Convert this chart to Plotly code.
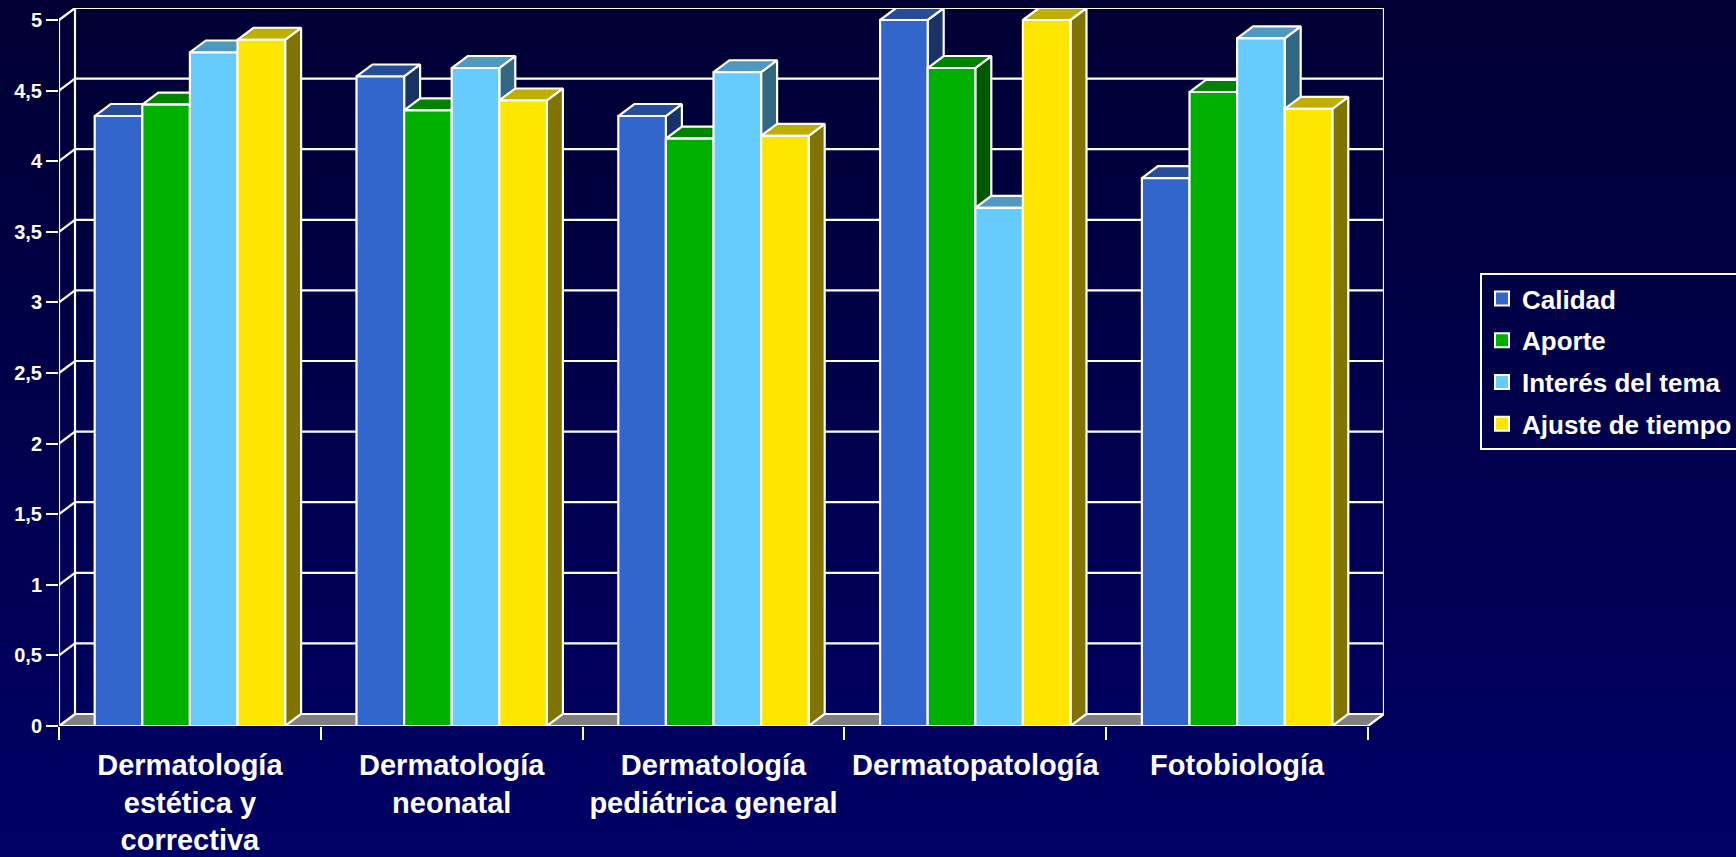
import numpy as np
import plotly.graph_objects as go

categories = ["Dermatología<br>estética y<br>correctiva", "Dermatología<br>neonatal",
              "Dermatología<br>pediátrica general", "Dermatopatología", "Fotobiología"]
calidad = [4.32, 4.60, 4.32, 5.00, 3.88]
aporte = [4.40, 4.36, 4.16, 4.66, 4.49]
interes = [4.77, 4.66, 4.63, 3.67, 4.87]
ajuste = [4.86, 4.43, 4.18, 5.00, 4.37]
series_names = ["Calidad", "Aporte", "Interés del tema", "Ajuste de tiempo"]
series_values = [calidad, aporte, interes, ajuste]
front_colors = ["#3366CC", "#00B000", "#66CCFF", "#FFE600"]
top_colors = ["#264D99", "#008400", "#4D99BF", "#BFAD00"]
side_colors = ["#1A3366", "#005800", "#336680", "#807300"]
y_ticks = [0, 0.5, 1, 1.5, 2, 2.5, 3, 3.5, 4, 4.5, 5]
y_labels = ["0", "0,5", "1", "1,5", "2", "2,5", "3", "3,5", "4", "4,5", "5"]

W, H = 1736, 857
X0, X1, Y0, Y1 = 59, 1384, 726, 8          # plot frame in page pixels
DX = 16 / 261.8                             # depth, in category units
DY = 12 / 141.2                             # depth, in value units
BAR = 1 / 5.5
n = len(categories)
centers = [i + 0.5 for i in range(n)]
WHITE = "#FFFFFF"
FONT = "Liberation Sans"
LW = 2.2

fig = go.Figure()

# page background gradient
fig.add_trace(go.Heatmap(z=np.linspace(0, 1, 256).reshape(-1, 1).tolist(), x=[0, 1],
                         y=np.linspace(1, 0, 256).tolist(), showscale=False, hoverinfo="skip",
                         colorscale=[[0, "#000033"], [1, "#000066"]], xaxis="x", yaxis="y"))


def add_poly(xs, ys, fill, z):
    fig.add_trace(go.Scatter(x=xs, y=ys, mode="lines", fill="toself" if fill else None, fillcolor=fill,
                             line=dict(color=WHITE, width=LW), hoverinfo="skip", showlegend=False,
                             cliponaxis=False, xaxis="x2", yaxis="y2", zorder=z))


# floor
add_poly([0, n, n + DX, DX, 0], [0, 0, DY, DY, 0], "#808080", 0)
# wall grid lines and frame
gx, gy = [], []
for v in y_ticks:
    gx += [0, DX, n + DX, None]
    gy += [v, v + DY, v + DY, None]
gx += [0, 0, None, DX, DX, None, n + DX, n + DX, None]
gy += [0, 5, None, DY, 5 + DY, None, DY, 5 + DY, None]
add_poly(gx, gy, None, 0)

# bars, painted left to right
for s, (name, vals) in enumerate(zip(series_names, series_values)):
    off = (s - 2) * BAR
    sx, sy, tx, ty = [], [], [], []
    for c, v in zip(centers, vals):
        l, r = c + off, c + off + BAR
        sx += [r, r + DX, r + DX, r, r, None]
        sy += [0, DY, v + DY, v, 0, None]
        tx += [l, r, r + DX, l + DX, l, None]
        ty += [v, v, v + DY, v + DY, v, None]
    add_poly(sx, sy, side_colors[s], 2 * s + 1)
    add_poly(tx, ty, top_colors[s], 2 * s + 1)
    fig.add_trace(go.Bar(x=centers, y=vals, name=name, width=BAR, offset=off, base=0,
                         marker=dict(color=front_colors[s], line=dict(color=WHITE, width=LW)),
                         legendgroup=name, showlegend=False, cliponaxis=False, hoverinfo="skip",
                         xaxis="x2", yaxis="y2", zorder=2 * s + 2))
    # legend key with the reference's larger square
    fig.add_trace(go.Scatter(x=[None], y=[None], mode="markers", name=name, legendgroup=name,
                             marker=dict(symbol="square", size=14, color=front_colors[s],
                                         line=dict(color=WHITE, width=2)),
                             hoverinfo="skip", xaxis="x2", yaxis="y2", zorder=0))

fig.update_layout(
    width=W, height=H, autosize=False, margin=dict(l=0, r=0, t=0, b=0, autoexpand=False),
    paper_bgcolor="#000066", plot_bgcolor="rgba(0,0,0,0)", barmode="overlay", separators=",.",
    showlegend=True,
    xaxis=dict(domain=[0, 1], range=[0, 1], visible=False, fixedrange=True, automargin=False),
    yaxis=dict(domain=[0, 1], range=[0, 1], visible=False, fixedrange=True, automargin=False),
    xaxis2=dict(domain=[X0 / W, X1 / W], range=[0, n + DX], anchor="y2", showgrid=False, zeroline=False,
                showline=False, tickmode="array", tickvals=centers, ticktext=categories, ticks="",
                tickangle=0, ticklabelstandoff=19, automargin=False,
                tickfont=dict(family=FONT, size=29, color=WHITE, weight=700),
                minor=dict(tickmode="array", tickvals=list(range(n + 1)), ticks="outside", ticklen=13,
                           tickwidth=2, tickcolor=WHITE, showgrid=False)),
    yaxis2=dict(domain=[1 - Y0 / H, 1 - Y1 / H], range=[0, 5 + DY], anchor="x2", showgrid=False,
                zeroline=False, showline=False, tickmode="array", tickvals=y_ticks, ticktext=y_labels,
                ticks="outside", ticklen=12, tickwidth=2, tickcolor=WHITE, automargin=False,
                tickfont=dict(family=FONT, size=20, color=WHITE, weight=700)),
    legend=dict(x=1480 / W, y=1 - 273 / H, xanchor="left", yanchor="top", bgcolor="rgba(0,0,0,0)",
                bordercolor=WHITE, borderwidth=2, tracegroupgap=5, traceorder="grouped",
                entrywidth=260, entrywidthmode="pixels",
                font=dict(family=FONT, size=26, color=WHITE, weight=700)),
)

fig.write_html("out.html", post_script="document.body.style.margin='0';document.body.style.overflow='hidden';",
               config={"displayModeBar": False})
